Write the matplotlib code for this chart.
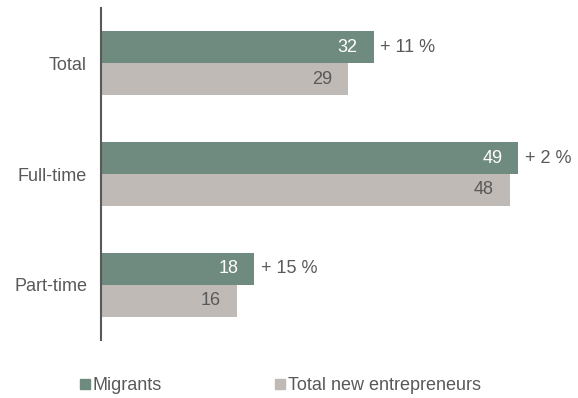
import matplotlib.pyplot as plt
from matplotlib.lines import Line2D

plt.rcParams['font.family'] = ['Liberation Sans', 'DejaVu Sans']

categories = ["Total", "Full-time", "Part-time"]
migrants = [32, 49, 18]
total_new = [29, 48, 16]
diff_labels = ["+ 11 %", "+ 2 %", "+ 15 %"]

green = "#6f8a7e"
grey = "#bfbab5"
textc = "#595959"
fs = 13

fig = plt.figure(figsize=(5.78, 3.98), dpi=100)
ax = fig.add_axes([101 / 578, 1 - 340 / 398, 459 / 578, 332 / 398])

pos = list(range(len(categories)))
h = 0.288
ax.barh([p - h / 2 for p in pos], migrants, height=h, color=green)
ax.barh([p + h / 2 for p in pos], total_new, height=h, color=grey)

for p, m, t, d in zip(pos, migrants, total_new, diff_labels):
    ax.text(m - 1.9, p - h / 2, str(m), ha="right", va="center", color="white", fontsize=fs)
    ax.text(t - 1.9, p + h / 2, str(t), ha="right", va="center", color=textc, fontsize=fs)
    ax.text(m + 0.8, p - h / 2, d, ha="left", va="center", color=textc, fontsize=fs)

ax.set_xlim(0, 459 / 8.52)
ax.set_ylim(len(categories) - 0.5, -0.5)
ax.set_yticks(pos)
ax.set_yticklabels(categories, fontsize=fs, color=textc)
ax.tick_params(axis="y", length=0, pad=10)
ax.set_xticks([])
for s in ["top", "right", "bottom"]:
    ax.spines[s].set_visible(False)
ax.spines["left"].set_color("#595959")
ax.spines["left"].set_linewidth(1.5)

handles = [Line2D([], [], marker="s", color=green, linestyle="none", markersize=7.2),
           Line2D([], [], marker="s", color=grey, linestyle="none", markersize=7.2)]
fig.legend(handles, ["Migrants", "Total new entrepreneurs"], loc="center",
           bbox_to_anchor=(280 / 578, 1 - 386 / 398), ncol=2, frameon=False,
           fontsize=fs, labelcolor=textc, handlelength=0.6, handletextpad=0.15,
           columnspacing=6.2)

fig.savefig("out.png", dpi=100)
